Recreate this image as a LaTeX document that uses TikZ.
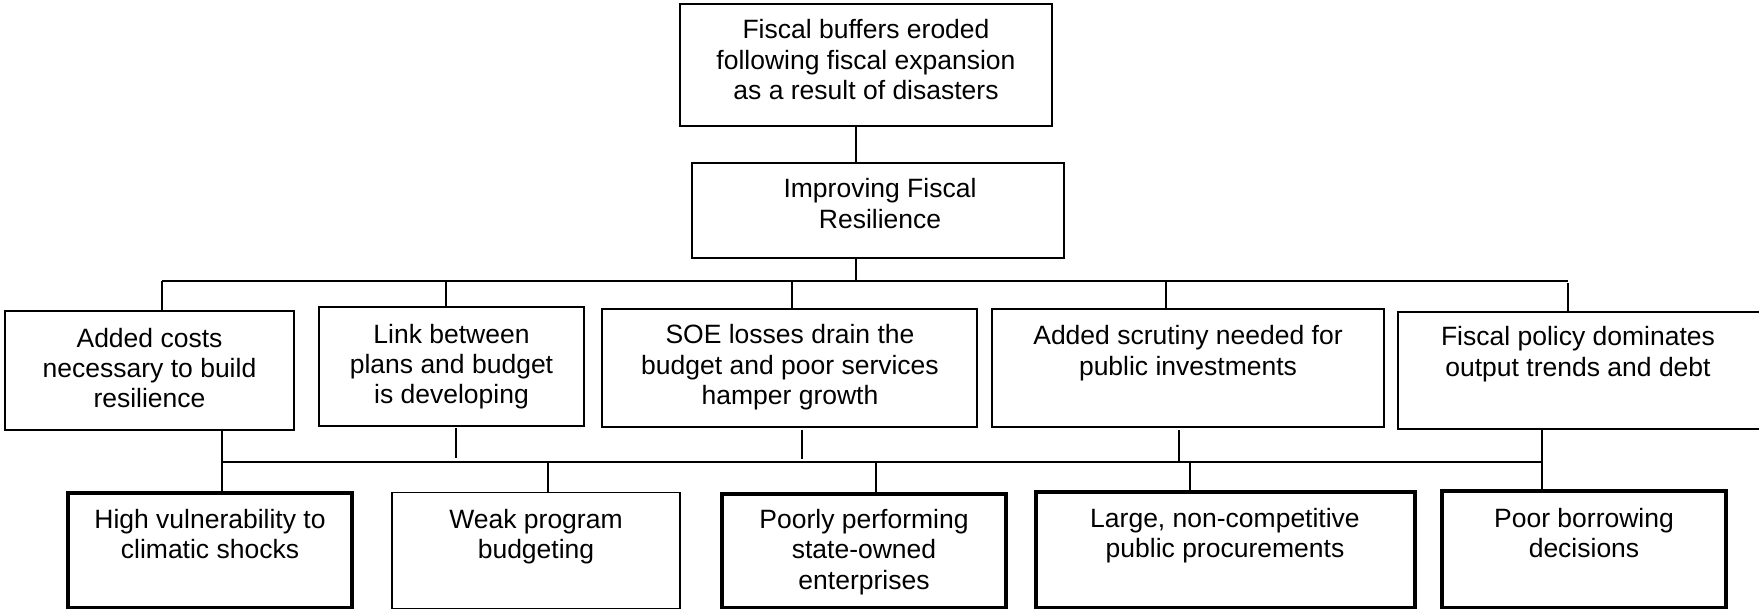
\documentclass[tikz,border=0pt]{standalone}
\usepackage{fontspec}
\setmainfont{Liberation Sans}
\begin{document}
\begin{tikzpicture}[x=1pt,y=-1pt,
  box/.style={draw=black, line width=1.4pt, rectangle, inner sep=0pt, outer sep=0pt},
  keybox/.style={box, line width=3.5pt},
  lbl/.style={anchor=north, align=center, inner sep=0pt, outer sep=0pt,
              font=\fontsize{26.5}{30.5}\selectfont},
  link/.style={draw=black, line width=1.4pt},
  keylink/.style={draw=black, line width=2.8pt}]
\useasboundingbox (0,0) rectangle (1759,609);
\clip (0,0) rectangle (1759,609);

% ---- top of the tree
\node[box, minimum width=372pt, minimum height=122pt] (top) at (866,65) {};
\node[lbl] (topT) at (866,17.65) {\strut Fiscal buffers eroded\\following fiscal expansion\\as a result of disasters};
\node[box, minimum width=372pt, minimum height=95pt] (imp) at (878,210.5) {};
\node[lbl] (impT) at (880,176.65) {\strut Improving Fiscal\\Resilience};

% ---- middle row: constraints
\node[box, minimum width=289pt, minimum height=119pt] (c1) at (149.5,370.5) {};
\node[lbl] (c1T) at (149.5,325.65) {\strut Added costs\\necessary to build\\resilience};
\node[box, minimum width=265pt, minimum height=119pt] (c2) at (451.5,366.5) {};
\node[lbl] (c2T) at (451.5,321.65) {\strut Link between\\plans and budget\\is developing};
\node[box, minimum width=375pt, minimum height=118pt] (c3) at (789.5,368) {};
\node[lbl] (c3T) at (790,322.65) {\strut SOE losses drain the\\budget and poor services\\hamper growth};
\node[box, minimum width=392pt, minimum height=118pt] (c4) at (1188,368) {};
\node[lbl] (c4T) at (1188,323.65) {\strut Added scrutiny needed for\\public investments};
\node[box, minimum width=377pt, minimum height=117pt] (c5) at (1586.5,370.5) {};
\node[lbl] (c5T) at (1578,324.65) {\strut Fiscal policy dominates\\output trends and debt};

% ---- bottom row: root causes
\node[keybox, minimum width=284pt, minimum height=114.5pt] (d1) at (210,550.25) {};
\node[lbl] (d1T) at (210,506.65) {\strut High vulnerability to\\climatic shocks};
\node[box, minimum width=288pt, minimum height=115.8pt] (d2) at (536,550.6) {};
\node[lbl] (d2T) at (536,506.65) {\strut Weak program\\budgeting};
\node[keybox, minimum width=284pt, minimum height=113.5pt] (d3) at (864,550.75) {};
\node[lbl] (d3T) at (864,506.65) {\strut Poorly performing\\state-owned\\enterprises};
\node[keybox, minimum width=379pt, minimum height=115.5pt] (d4) at (1225.5,549.75) {};
\node[lbl] (d4T) at (1225,505.65) {\strut Large, non-competitive\\public procurements};
\node[keybox, minimum width=284pt, minimum height=116.5pt] (d5) at (1584,549.25) {};
\node[lbl] (d5T) at (1584,505.65) {\strut Poor borrowing\\decisions};

% ---- junction points of the two buses
\coordinate (hub)  at (856,281);
\coordinate (busL) at (162,281);
\coordinate (busR) at (1568,281);
\coordinate (u2)   at (446,281);
\coordinate (u3)   at (792,281);
\coordinate (u4)   at (1166,281);
\coordinate (lowL) at (222,462);
\coordinate (lowR) at (1542,462);
\coordinate (v2)   at (456,458);
\coordinate (v3)   at (802,459);
\coordinate (v4)   at (1179,462);
\coordinate (w2)   at (548,462);
\coordinate (w3)   at (876,462);
\coordinate (w4)   at (1190,462);

% ---- connectors, upper part
\draw[link] (top.south -| hub) -- (imp.north -| hub);
\draw[link] (imp.south -| hub) -- (hub);
\draw[link] (busL) -- (busR);
\draw[link] (busL) -- (c1.north -| busL);
\draw[link] (u2) -- (c2.north -| u2);
\draw[keylink] (u3) -- (c3.north -| u3);
\draw[link] (u4) -- (c4.north -| u4);
\draw[keylink] ([yshift=-2pt]busR) -- (c5.north -| busR);

% ---- connectors, lower part
\draw[link] (lowL) -- (lowR);
\draw[link] (c1.south -| lowL) -- (lowL);
\draw[link] ([yshift=-2pt]c2.south -| v2) -- (v2);
\draw[link] ([yshift=-3pt]c3.south -| v3) -- (v3);
\draw[keylink] ([yshift=-3pt]c4.south -| v4) -- (v4);
\draw[link] (c5.south -| lowR) -- (d5.north -| lowR);
\draw[keylink] (lowL) -- (d1.north -| lowL);
\draw[link] (w2) -- (d2.north -| w2);
\draw[keylink] (w3) -- (d3.north -| w3);
\draw[link] (w4) -- (d4.north -| w4);
\end{tikzpicture}
\end{document}
